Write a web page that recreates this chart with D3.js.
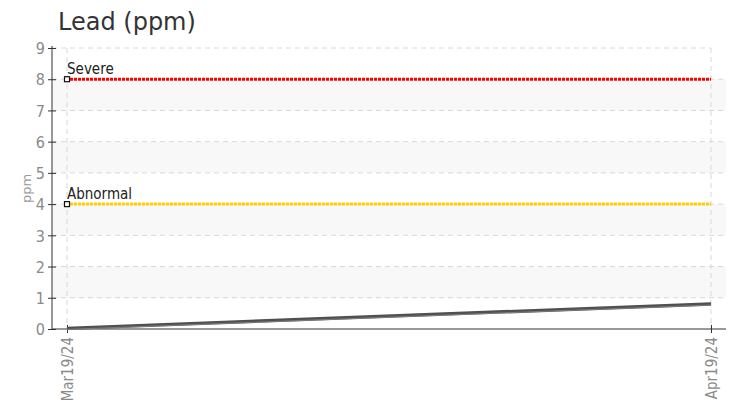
<!DOCTYPE html>
<html>
<head>
<meta charset="utf-8">
<script src="https://cdn.jsdelivr.net/npm/d3@7"></script>
<style>
body { margin: 0; background: #fff; }
text { font-family: "DejaVu Sans Condensed", "DejaVu Sans", sans-serif; font-stretch: condensed; }
</style>
</head>
<body>
<svg id="Viz"></svg>
<script>
// chart data
let dates = ["Mar19/24", "Apr19/24"];
let values = [0.02, 0.8];
let limitNames = ["Severe", "Abnormal"];
let limitValues = [8, 4];
let limitColors = ["#ff0000", "#ffcc00"];
let yTicks = [0, 1, 2, 3, 4, 5, 6, 7, 8, 9];

let Width = 736, Height = 407;
let plotLeft = 52, plotRight = 726, plotTop = 48, plotBottom = 329;

let vizArea = d3.select('#Viz')
  .attr("width", Width)
  .attr("height", Height);

let xScale = d3.scalePoint().domain(dates).range([67, 711]);
let yScale = d3.scaleLinear().domain([0, 9]).range([plotBottom, plotTop]);

// title
vizArea.append("text")
  .attr("x", 58).attr("y", 30)
  .style("font-family", "DejaVu Sans, sans-serif")
  .style("font-stretch", "normal")
  .style("font-size", "24px")
  .attr("fill", "#333")
  .text("Lead (ppm)");

// alternating bands
vizArea.selectAll(".band")
  .data([1, 3, 5, 7])
  .enter()
  .append("rect")
  .attr("x", plotLeft)
  .attr("width", plotRight - plotLeft)
  .attr("y", d => yScale(d + 1))
  .attr("height", d => yScale(d) - yScale(d + 1))
  .attr("fill", "#f8f8f8");

// horizontal grid
vizArea.selectAll(".hgrid")
  .data(yTicks.slice(1))
  .enter()
  .append("line")
  .attr("x1", plotLeft)
  .attr("x2", d => d == 9 ? xScale(dates[1]) : plotRight)
  .attr("y1", d => yScale(d))
  .attr("y2", d => yScale(d))
  .attr("stroke", "#d8d8d8")
  .attr("stroke-dasharray", "5,4");

// vertical grid
vizArea.selectAll(".vgrid")
  .data(dates)
  .enter()
  .append("line")
  .attr("x1", d => xScale(d))
  .attr("x2", d => xScale(d))
  .attr("y1", plotTop)
  .attr("y2", plotBottom)
  .attr("stroke", "#d8d8d8")
  .attr("stroke-dasharray", "5,4");

// y axis
let yAxis = vizArea.append('g')
  .attr("transform", "translate(" + plotLeft + ",0)")
  .call(d3.axisLeft(yScale).tickValues(yTicks).tickSizeInner(4).tickSizeOuter(0).tickPadding(3));
yAxis.select(".domain").attr("stroke", "#333").attr("d", "M0," + (plotTop - 2) + "V" + plotBottom);
yAxis.selectAll(".tick line").attr("stroke", "#333").attr("x1", 4).attr("x2", -4);
yAxis.selectAll(".tick text")
  .attr("fill", "#8a8a8a")
  .style("font-size", "16px")
  .attr("dy", "0.36em");

vizArea.append("text")
  .attr("transform", "translate(31," + yScale(4.5) + ") rotate(-90)")
  .attr("text-anchor", "middle")
  .attr("fill", "#999")
  .style("font-family", "DejaVu Sans, sans-serif")
  .style("font-stretch", "normal")
  .style("font-size", "13px")
  .text("ppm");

// x axis
let xAxis = vizArea.append('g')
  .attr("transform", "translate(0," + plotBottom + ")")
  .call(d3.axisBottom(xScale).tickSizeInner(4).tickSizeOuter(0));
xAxis.select(".domain").attr("stroke", "#333").attr("d", "M" + plotLeft + ",0H" + plotRight);
xAxis.selectAll(".tick line").attr("stroke", "#333").attr("y1", -4).attr("y2", 4);
xAxis.selectAll(".tick text")
  .attr("fill", "#8a8a8a")
  .style("font-size", "15px")
  .attr("text-anchor", "end")
  .attr("transform", "rotate(-90)")
  .attr("x", -8)
  .attr("y", 0)
  .attr("dy", "0.36em");

// limit lines
limitValues.forEach(function (v, i) {
  vizArea.append("line")
    .attr("x1", xScale(dates[0]) + 3)
    .attr("x2", xScale(dates[1]))
    .attr("y1", yScale(v))
    .attr("y2", yScale(v))
    .attr("stroke", limitColors[i])
    .attr("stroke-width", 3)
    .attr("stroke-dasharray", "3,1");
  vizArea.append("rect")
    .attr("x", xScale(dates[0]) - 2.5)
    .attr("y", yScale(v) - 2.5)
    .attr("width", 5)
    .attr("height", 5)
    .attr("fill", "#fff")
    .attr("stroke", "#111")
    .attr("stroke-width", 1.2);
  vizArea.append("text")
    .attr("x", xScale(dates[0]))
    .attr("y", yScale(v) - 5)
    .attr("fill", "#222")
    .attr("stroke", "#fff")
    .attr("stroke-width", 2)
    .attr("paint-order", "stroke")
    .style("font-size", "15px")
    .text(limitNames[i]);
});

// data line
let drawline = d3.line()
  .x((d, i) => xScale(dates[i]))
  .y(d => yScale(d));

vizArea.append("path")
  .datum(values)
  .attr("fill", "none")
  .attr("stroke", "#505050")
  .attr("stroke-width", 3.5)
  .attr("d", drawline);
vizArea.append("path")
  .datum(values)
  .attr("fill", "none")
  .attr("stroke", "#8a8a8a")
  .attr("stroke-width", 0.8)
  .attr("transform", "translate(0,1)")
  .attr("d", drawline);
</script>
</body>
</html>
